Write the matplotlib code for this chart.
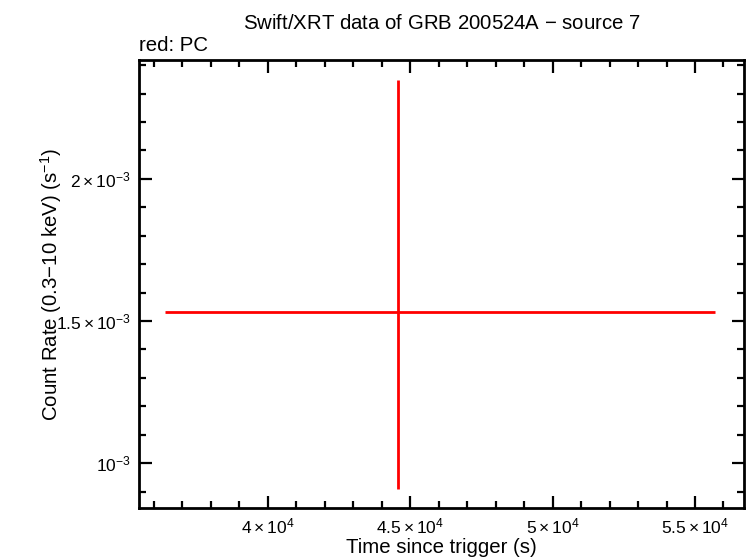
import matplotlib
matplotlib.use("Agg")
import matplotlib.pyplot as plt
from matplotlib.ticker import MultipleLocator, FixedLocator

plt.rcParams['font.family'] = ['Liberation Sans', 'DejaVu Sans']
plt.rcParams['mathtext.fontset'] = 'custom'
plt.rcParams['mathtext.rm'] = 'Liberation Sans'
plt.rcParams['mathtext.it'] = 'Liberation Sans'

# PC mode point
pc_time = [44560]
pc_t_lo = [36390]
pc_t_hi = [55700]
pc_rate = [1.53e-3]
pc_rate_lo = [0.909e-3]
pc_rate_hi = [2.347e-3]

xticks = [4e4, 4.5e4, 5e4, 5.5e4]
xtick_labels = [r'$4\times10^4$', r'$4.5\times10^4$', r'$5\times10^4$', r'$5.5\times10^4$']
yticks = [1e-3, 1.5e-3, 2e-3]
ytick_labels = [r'$10^{-3}$', r'$1.5\times10^{-3}$', r'$2\times10^{-3}$']

fig = plt.figure(figsize=(7.46, 5.58), dpi=100)
ax = fig.add_axes([0.1863, 0.0896, 0.8110, 0.8029])

xerr = [[t - lo for t, lo in zip(pc_time, pc_t_lo)], [hi - t for t, hi in zip(pc_time, pc_t_hi)]]
yerr = [[r - lo for r, lo in zip(pc_rate, pc_rate_lo)], [hi - r for r, hi in zip(pc_rate, pc_rate_hi)]]
ax.errorbar(pc_time, pc_rate, xerr=xerr, yerr=yerr, fmt='none', ecolor='#ff0000', elinewidth=2.0, capsize=0)

ax.set_xlim(35480, 56720)
ax.set_ylim(0.842e-3, 2.418e-3)

ax.xaxis.set_major_locator(FixedLocator(xticks))
ax.set_xticklabels(xtick_labels)
ax.xaxis.set_minor_locator(MultipleLocator(1000))
ax.yaxis.set_major_locator(FixedLocator(yticks))
ax.set_yticklabels(ytick_labels)
ax.yaxis.set_minor_locator(MultipleLocator(1e-4))

ax.tick_params(which='both', direction='in', top=True, right=True, width=1.6, labelsize=12.5, pad=6)
ax.tick_params(which='major', length=9)
ax.tick_params(which='minor', length=5)
for s in ax.spines.values():
    s.set_linewidth(2)

ax.set_xlabel('Time since trigger (s)', fontsize=14.7, labelpad=1)
ax.set_ylabel(r'Count Rate (0.3$-$10 keV) (s$^{-1}$)', fontsize=14.7, labelpad=-6)
ax.set_title(r'Swift/XRT data of GRB 200524A $-$ source 7', fontsize=14.7, pad=22)
ax.text(0.0, 1.012, 'red: PC', transform=ax.transAxes, fontsize=14.7, ha='left', va='bottom')

fig.savefig('out.png', dpi=100)
